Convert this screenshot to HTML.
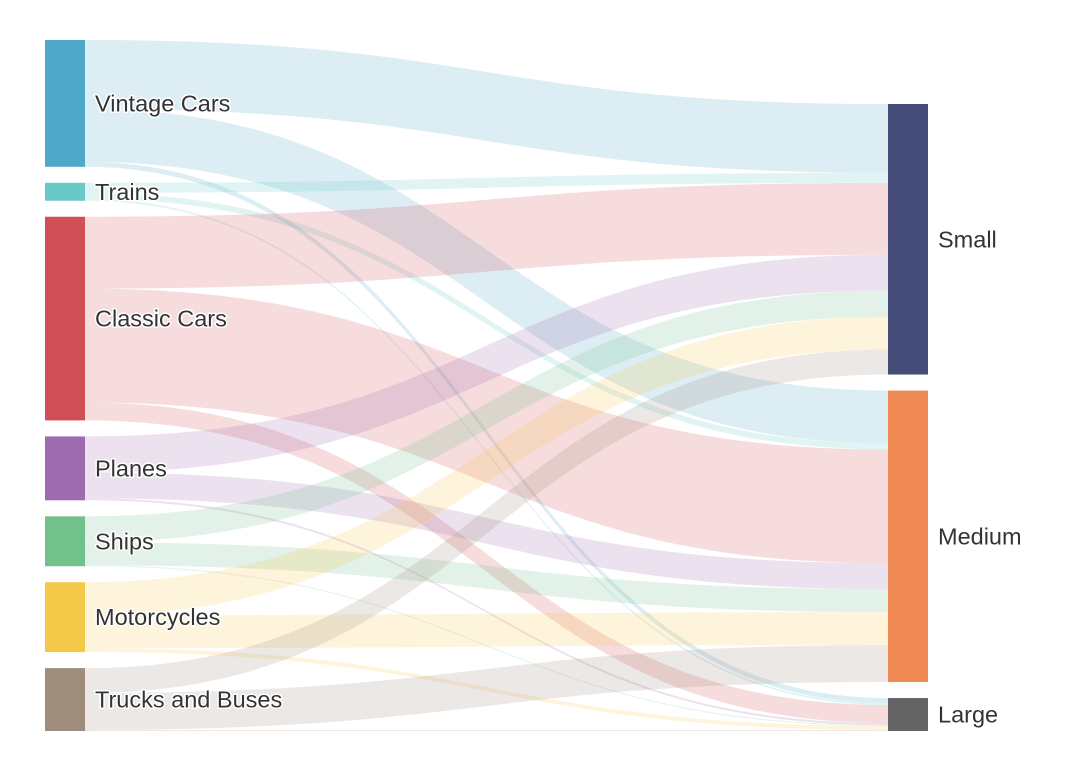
<!DOCTYPE html>
<html><head><meta charset="utf-8"><style>
html,body{margin:0;padding:0;background:#fff;}
svg text{font-family:"Liberation Sans",sans-serif;font-size:23.5px;fill:#333;paint-order:stroke;stroke:#fff;stroke-width:3px;stroke-linejoin:round;}
</style></head><body>
<svg id="chart" width="1068" height="770"></svg>
<script>
const sources = ["Vintage Cars","Trains","Classic Cars","Planes","Ships","Motorcycles","Trucks and Buses"];
const targets = ["Small","Medium","Large"];
const toSmall = [69,10,72,36,26,33,25];
const toMedium = [53,6,114,26,23,33,37];
const toLarge = [5,2,18,2,1,4,1];
const sourceColors = ["#4fa8c8","#68c9c8","#d04e56","#9f6bb0","#72c08b","#f4c94a","#9e8d7c"];
const targetColors = ["#454d78","#f08a55","#646464"];

const svgEl = document.getElementById('chart');
const NS = "http://www.w3.org/2000/svg";
const flows = [toSmall, toMedium, toLarge];
const yTop = 40, yBottom = 731, nodeGap = 16, lx0 = 45, lx1 = 85, rx0 = 888, rx1 = 928;
const srcTot = sources.map((s,i)=>flows.reduce((a,f)=>a+f[i],0));
const tgtTot = flows.map(f=>f.reduce((a,b)=>a+b,0));
const grand = srcTot.reduce((a,b)=>a+b,0);
const kScale = (yBottom - yTop - nodeGap*(sources.length-1)) / grand;
const sy = []; let yy = yTop;
srcTot.forEach((t)=>{sy.push(yy); yy += t*kScale + nodeGap;});
const ty = []; yy = yBottom - tgtTot.reduce((a,b)=>a+b,0)*kScale - nodeGap*(targets.length-1);
tgtTot.forEach((t)=>{ty.push(yy); yy += t*kScale + nodeGap;});

function mk(tag, attrs){const e=document.createElementNS(NS,tag);for(const a in attrs)e.setAttribute(a,attrs[a]);return e;}
const gl = mk('g',{}); svgEl.appendChild(gl);


const sPos = sy.slice(), tPos = ty.slice();
const linkS = [], linkT = [];
for(let i=0;i<sources.length;i++){linkS.push([]);for(let j=0;j<targets.length;j++){linkS[i].push(sPos[i]);sPos[i]+=flows[j][i]*kScale;}}
for(let j=0;j<targets.length;j++){linkT.push([]);for(let i=0;i<sources.length;i++){linkT[j].push(tPos[j]);tPos[j]+=flows[j][i]*kScale;}}
const mx = (lx1+rx0)/2;
for(let i=0;i<sources.length;i++){
  for(let j=0;j<targets.length;j++){
    const h = flows[j][i]*kScale; if(h<=0) continue;
    const a = linkS[i][j], b = linkT[j][i];
    const d = `M${lx1},${a} C${mx},${a} ${mx},${b} ${rx0},${b} L${rx0},${b+h} C${mx},${b+h} ${mx},${a+h} ${lx1},${a+h} Z`;
    const p = mk('path',{d:d,fill:sourceColors[i],'fill-opacity':0.2});
    
    
    gl.appendChild(p);
  }
}
sources.forEach((s,i)=>{
  const r = mk('rect',{x:lx0,y:sy[i],width:lx1-lx0,height:srcTot[i]*kScale,fill:sourceColors[i]});
  
  
  svgEl.appendChild(r);
  const t = mk('text',{x:95,y:sy[i]+srcTot[i]*kScale/2+8});
  t.textContent = s;
  
  
  svgEl.appendChild(t);
});
targets.forEach((s,j)=>{
  const r = mk('rect',{x:rx0,y:ty[j],width:rx1-rx0,height:tgtTot[j]*kScale,fill:targetColors[j]});
  
  
  svgEl.appendChild(r);
  const t = mk('text',{x:938,y:ty[j]+tgtTot[j]*kScale/2+8});
  t.textContent = s;
  
  
  svgEl.appendChild(t);
});
</script>
</body></html>
